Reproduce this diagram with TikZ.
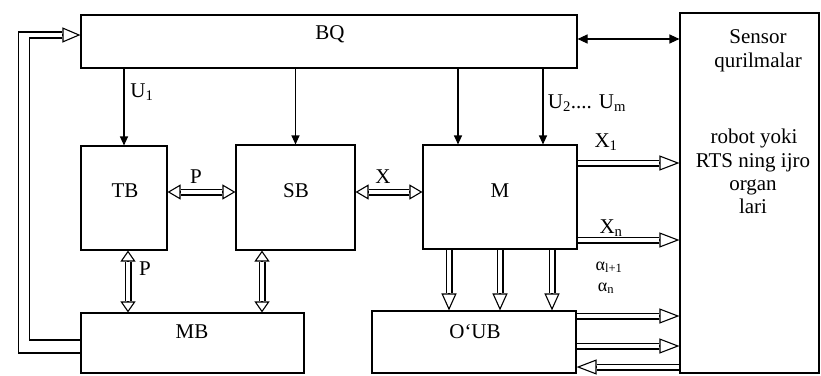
\documentclass[tikz,border=0pt]{standalone}
\usepackage{fontspec}
\setmainfont{Liberation Serif}
\usetikzlibrary{arrows.meta,calc}
\newcommand{\harr}[3]{% #1 head length, #2 from, #3 to
  \draw[shaft, shorten >=#1, shorten <=0.5pt] (#2) -- (#3);
  \draw[hhead=#1] ($(#3)!#1!(#2)$) -- (#3);
}
\newcommand{\hdarr}[3]{%
  \draw[shaft, shorten >=#1, shorten <=#1] (#2) -- (#3);
  \draw[hhead=#1] ($(#3)!#1!(#2)$) -- (#3);
  \draw[hhead=#1] ($(#2)!#1!(#3)$) -- (#2);
}
\newcommand{\bigfont}{\fontsize{21pt}{25pt}\selectfont}
\newcommand{\smallfont}{\fontsize{18pt}{20pt}\selectfont}
\tikzset{
  box/.style={draw, line width=1.1pt, inner sep=0pt, rectangle},
  shaft/.style={double, double distance=4.8pt, line width=1.1pt, line cap=butt},
  hhead/.style={-{Triangle[open, length=#1, width=15pt]}, line width=1.1pt},
  thinarr/.style={-{Triangle[length=9pt, width=8pt]}, line width=1.1pt},
  thinbi/.style={{Triangle[length=10pt, width=9pt]}-{Triangle[length=10pt, width=9pt]}, line width=1.1pt},
  lbl/.style={font=\bigfont, inner sep=0pt, anchor=base},
  slbl/.style={font=\smallfont, inner sep=0pt, anchor=base},
  loop/.style={line width=1.1pt}
}
\begin{document}
\begin{tikzpicture}[x=1pt, y=-1pt]
\useasboundingbox (0,0) rectangle (821,375);
\clip (0,0) rectangle (821,375);
% boxes
\node[box, minimum width=496pt, minimum height=53pt] (bq) at (329,41.5) {};
\node[box, minimum width=139pt, minimum height=360pt] (sensor) at (749.5,193) {};
\node[box, minimum width=86pt, minimum height=104pt] (tb) at (124,198) {};
\node[box, minimum width=119pt, minimum height=105pt] (sb) at (295.5,197.5) {};
\node[box, minimum width=154pt, minimum height=104pt] (m) at (500,197) {};
\node[box, minimum width=223pt, minimum height=60pt] (mb) at (192.5,343) {};
\node[box, minimum width=204pt, minimum height=62pt] (oub) at (474,342) {};
% box texts
\node[lbl] (tbq) at (330,39) {BQ};
\node[lbl] (ttb) at (125,197) {TB};
\node[lbl] (tsb) at (296,197) {SB};
\node[lbl] (tm) at (500,197) {M};
\node[lbl] (tmb) at (192,338) {MB};
\node[lbl] (toub) at (475,338) {O‘UB};
\node[lbl] (ts1) at (758,43) {Sensor};
\node[lbl] (ts2) at (758,67) {qurilmalar};
\node[lbl] (ts3) at (754,143) {robot yoki};
\node[lbl] (ts4) at (753,167) {RTS ning ijro};
\node[lbl] (ts5) at (753,190) {organ};
\node[lbl] (ts6) at (753,213) {lari};
% coordinates
\coordinate (m1) at ([xshift=-42pt]m.north);
\coordinate (m2) at ([xshift=43pt]m.north);
\coordinate (a1) at ([yshift=2.5pt]bq.east);
\coordinate (t1) at ([yshift=6pt]tb.east);
\coordinate (s1) at ([yshift=5.5pt]sb.east);
\coordinate (t2) at ([xshift=4pt]tb.south);
\coordinate (s2) at ([xshift=-33.5pt]sb.south);
\coordinate (d1) at ([xshift=-51pt]m.south);
\coordinate (d2) at (m.south);
\coordinate (d3) at ([xshift=52pt]m.south);
\coordinate (x1) at ([yshift=34pt]m.east);
\coordinate (xn) at ([yshift=-43pt]m.east);
\coordinate (o1) at ([yshift=26pt]oub.east);
\coordinate (o2) at ([yshift=-4pt]oub.east);
\coordinate (o3) at ([yshift=-25pt]oub.east);
\coordinate (f1) at ([yshift=3pt]mb.west);
\coordinate (f2) at ([yshift=-10pt]mb.west);
\coordinate (g1) at ([xshift=-18pt, yshift=3.5pt]bq.west);
\coordinate (g2) at ([xshift=-18pt, yshift=9.5pt]bq.west);
\coordinate (g0) at ([xshift=-18pt, yshift=6.5pt]bq.west);
\coordinate (gt) at ([yshift=6.5pt]bq.west);
% thin arrows
\draw[thinarr] (bq.south -| tb.north) -- (tb.north);
\draw[thinarr] (bq.south -| sb.north) -- (sb.north);
\draw[thinarr] (bq.south -| m1) -- (m1);
\draw[thinarr] (bq.south -| m2) -- (m2);
\draw[thinbi] (a1) -- (a1 -| sensor.west);
% hollow arrows
\hdarr{13pt}{t1}{t1 -| sb.west}
\hdarr{13pt}{s1}{s1 -| m.west}
\hdarr{11pt}{t2}{t2 |- mb.north}
\hdarr{11pt}{s2}{s2 |- mb.north}
\harr{17pt}{d1}{d1 |- oub.north}
\harr{17pt}{d2}{d2 |- oub.north}
\harr{17pt}{d3}{d3 |- oub.north}
\harr{20pt}{x1}{x1 -| sensor.west}
\harr{20pt}{xn}{xn -| sensor.west}
\harr{20pt}{o1}{o1 -| sensor.west}
\harr{20pt}{o2}{o2 -| sensor.west}
\harr{20pt}{o3 -| sensor.west}{o3}
% feedback loop MB -> BQ
\draw[loop] (f1) -- ++(-51,0) |- (g1);
\draw[loop] (f2) -- ++(-62,0) |- (g2);
\draw[hhead=18pt] (g0) -- (gt);
% labels
\node[lbl] (lu1) at (142,97) {U\textsubscript{1}};
\node[lbl] (lu2) at (587,108) {U\textsubscript{2}.... U\textsubscript{m}};
\node[lbl] (lx1) at (606,147) {X\textsubscript{1}};
\node[lbl] (lxn) at (611,233) {X\textsubscript{n}};
\node[slbl] (la1) at (609,270) {α\textsubscript{l+1}};
\node[slbl] (la2) at (606,291) {α\textsubscript{n}};
\node[lbl] (lp1) at (196,183) {P};
\node[lbl] (lx) at (383,183) {X};
\node[lbl] (lp2) at (145,275) {P};
\end{tikzpicture}
\end{document}
